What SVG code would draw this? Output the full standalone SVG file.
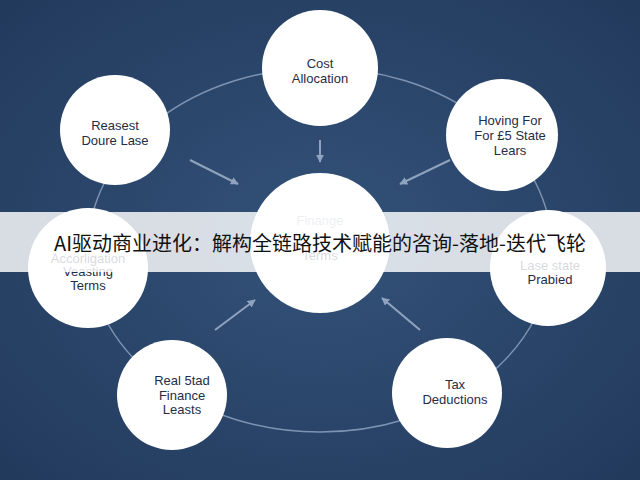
<svg xmlns="http://www.w3.org/2000/svg" width="640" height="480" viewBox="0 0 640 480">
<defs>
<radialGradient id="bg" cx="50%" cy="50%" r="70%"><stop offset="0" stop-color="#34527a"/><stop offset="1" stop-color="#223a5c"/></radialGradient>
<marker id="ah" viewBox="0 0 10 10" refX="9" refY="5" markerWidth="4" markerHeight="4" orient="auto"><path d="M0,0L10,5L0,10z" fill="#8fa3bf"/></marker>
</defs>
<style>
.n{fill:#fff}
.t{font-family:"Liberation Sans",Arial,sans-serif;font-size:13px;fill:#1f2d45;text-anchor:middle}
.c{stroke:#8fa3bf;stroke-width:2;fill:none;marker-end:url(#ah)}
</style>
<rect width="640" height="480" fill="url(#bg)"/>
<ellipse cx="320" cy="250" rx="232" ry="182" fill="none" stroke="#7d93b3" stroke-width="1.5"/>
<g id="connectors">
<line class="c" x1="320" y1="140" x2="320" y2="162"/>
<line class="c" x1="190" y1="160" x2="238" y2="184"/>
<line class="c" x1="450" y1="160" x2="400" y2="184"/>
<line class="c" x1="215" y1="330" x2="255" y2="300"/>
<line class="c" x1="420" y1="330" x2="382" y2="298"/>
</g>
<g id="center"><circle class="n" cx="320" cy="243" r="70"/><text class="t" x="320" y="225" style="fill:#9aa5b5">Finange</text><text class="t" x="320" y="260">Terms</text></g>
<g id="top"><circle class="n" cx="320" cy="68" r="58"/><text class="t" x="320" y="68">Cost</text><text class="t" x="320" y="83">Allocation</text></g>
<g id="topleft"><circle class="n" cx="115" cy="130" r="55"/><text class="t" x="115" y="130">Reasest</text><text class="t" x="115" y="145">Doure Lase</text></g>
<g id="topright"><circle class="n" cx="502" cy="135" r="56"/><text class="t" x="510" y="125">Hoving For</text><text class="t" x="510" y="140">For £5 State</text><text class="t" x="510" y="155">Lears</text></g>
<g id="left"><circle class="n" cx="88" cy="268" r="60"/><text class="t" x="88" y="263">Accorligation</text><text class="t" x="88" y="276">Veasting</text><text class="t" x="88" y="290">Terms</text></g>
<g id="right"><circle class="n" cx="548" cy="268" r="58"/><text class="t" x="550" y="270">Lase state</text><text class="t" x="550" y="284">Prabied</text></g>
<g id="bottomleft"><circle class="n" cx="172" cy="395" r="55"/><text class="t" x="182" y="385">Real 5tad</text><text class="t" x="182" y="400">Finance</text><text class="t" x="182" y="414">Leasts</text></g>
<g id="bottomright"><circle class="n" cx="447" cy="393" r="55"/><text class="t" x="455" y="389">Tax</text><text class="t" x="455" y="404">Deductions</text></g>
<rect x="0" y="212" width="640" height="60" fill="#fff" opacity="0.82"/>
<text x="320" y="251" font-family="'Noto Sans CJK SC',sans-serif" font-size="20" text-anchor="middle" fill="#111">AI驱动商业进化：解构全链路技术赋能的咨询-落地-迭代飞轮</text>
</svg>
